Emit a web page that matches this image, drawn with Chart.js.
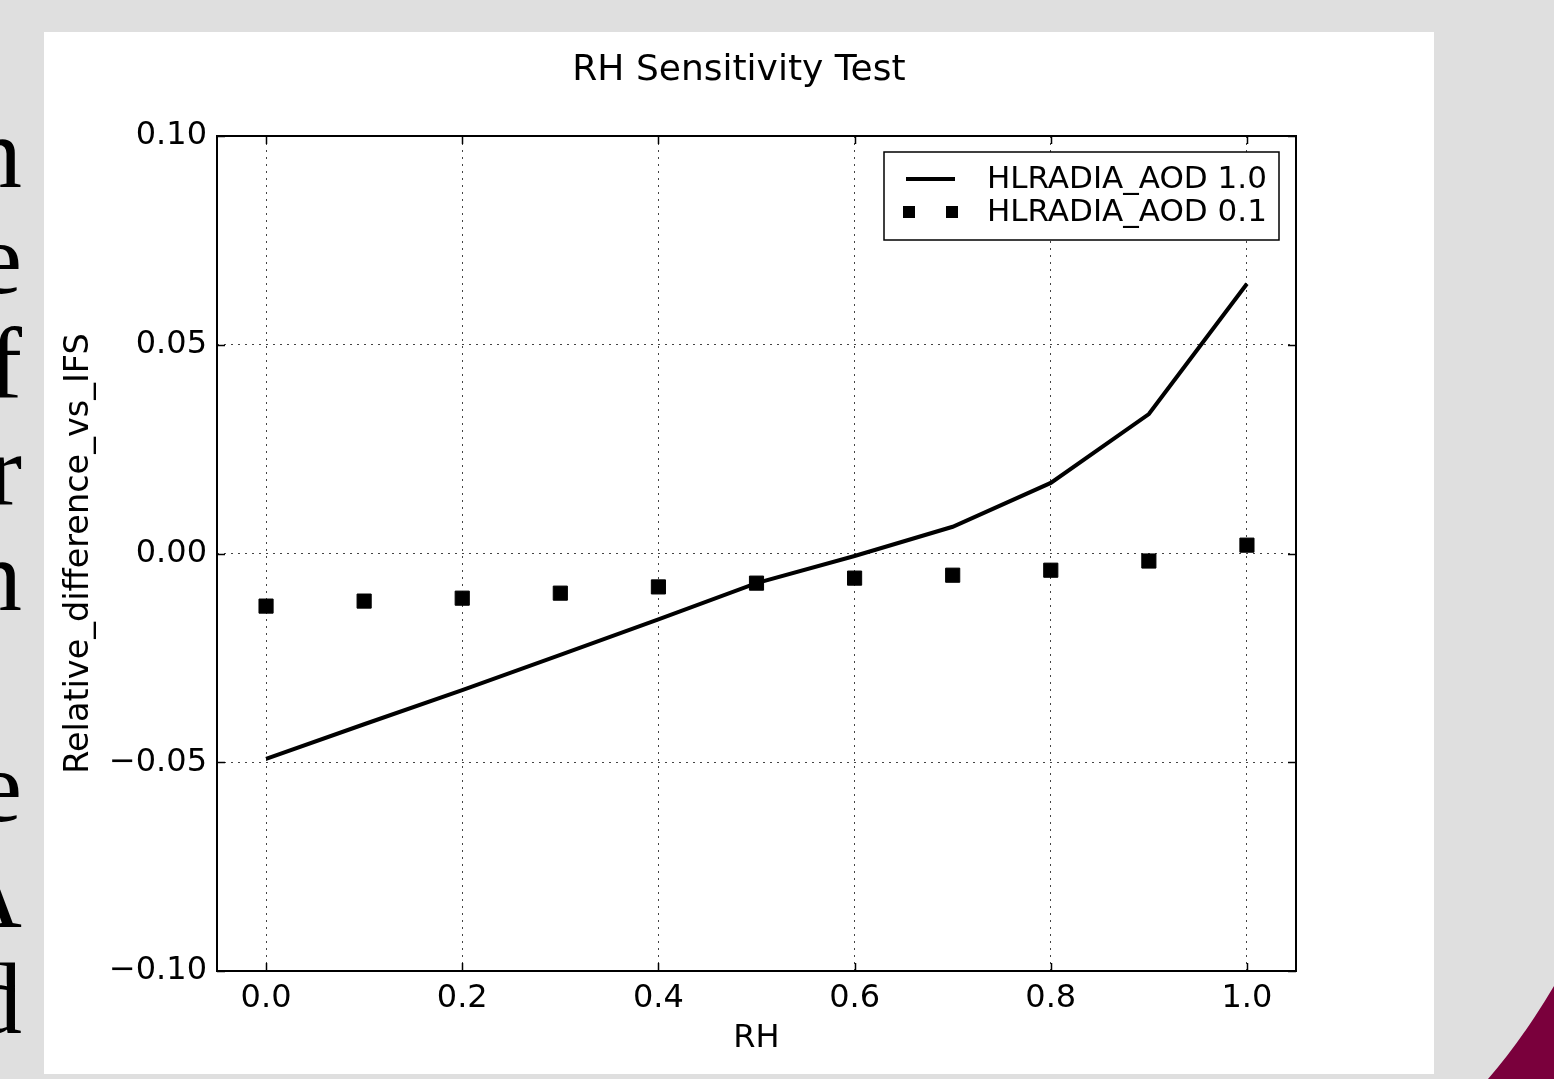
<!DOCTYPE html>
<html><head><meta charset="utf-8">
<script src="https://cdn.jsdelivr.net/npm/chart.js@4"></script>
<style>
html,body{margin:0;padding:0;background:#dfdfdf;width:1554px;height:1079px;overflow:hidden;position:relative}
#panel{position:absolute;left:44px;top:32px;width:1390px;height:1042px;background:#fff}
#side{position:absolute;right:1532px;top:100px;text-align:right;font-family:'Liberation Serif',serif;font-size:102px;line-height:105.7px;color:#000;white-space:nowrap}
#deco{position:absolute;left:0;top:0}
</style></head>
<body>
<div id="side">n<br>e<br>f<br>r<br>n<br>&nbsp;<br>e<br>A<br>d</div>
<svg id="deco" width="1554" height="1079"><path d="M1488 1079 Q1522 1040 1554 986 L1554 1079 Z" fill="#7a003c"/></svg>
<div id="panel"><canvas id="c" width="1390" height="1042"></canvas></div>
<script>
const titleText = 'RH Sensitivity Test';
const xLabel = 'RH';
const yLabel = 'Relative_difference_vs_IFS';
const rhValues = [0.0, 0.1, 0.2, 0.3, 0.4, 0.5, 0.6, 0.7, 0.8, 0.9, 1.0];
const seriesAod10 = [-0.0492, -0.0409, -0.0327, -0.0243, -0.0158, -0.0071, -0.0006, 0.0064, 0.0169, 0.0334, 0.0646];
const seriesAod01 = [-0.0126, -0.0114, -0.0107, -0.0095, -0.0080, -0.0071, -0.0059, -0.0052, -0.0040, -0.0018, 0.0020];
const seriesNames = ['HLRADIA_AOD 1.0', 'HLRADIA_AOD 0.1'];
const xTicks = [0.0, 0.2, 0.4, 0.6, 0.8, 1.0];
const yTicks = [-0.10, -0.05, 0.00, 0.05, 0.10];

const FONT = 'DejaVu Sans';
const fmt = (v, d) => { const s = Math.abs(v).toFixed(d); return (v < -1e-9 ? '\u2212' : '') + s; };

const framePlugin = {
  id: 'frame',
  afterDatasetsDraw(chart) {
    const {ctx, chartArea: a, scales} = chart;
    ctx.save();
    ctx.strokeStyle = '#000';
    ctx.lineWidth = 1.5;
    const tl = 8;
    ctx.beginPath();
    xTicks.forEach(v => {
      const p = Math.round(scales.x.getPixelForValue(v)) + 0.5;
      ctx.moveTo(p, a.bottom); ctx.lineTo(p, a.bottom - tl);
      ctx.moveTo(p, a.top); ctx.lineTo(p, a.top + tl);
    });
    yTicks.forEach(v => {
      const p = Math.round(scales.y.getPixelForValue(v)) + 0.5;
      ctx.moveTo(a.left, p); ctx.lineTo(a.left + tl, p);
      ctx.moveTo(a.right, p); ctx.lineTo(a.right - tl, p);
    });
    ctx.stroke();
    ctx.lineWidth = 2;
    ctx.strokeRect(a.left, a.top, a.right - a.left, a.bottom - a.top);
    ctx.restore();
  }
};

const legendPlugin = {
  id: 'boxLegend',
  afterDraw(chart) {
    const {ctx, chartArea: a} = chart;
    const w = 395, h = 88;
    const L = a.right - 17 - w, T = a.top + 16;
    ctx.save();
    ctx.fillStyle = '#fff';
    ctx.fillRect(L, T, w, h);
    ctx.strokeStyle = '#000';
    ctx.lineWidth = 1.5;
    ctx.strokeRect(L, T, w, h);
    const ds = chart.data.datasets;
    ctx.strokeStyle = ds[0].borderColor;
    ctx.lineWidth = ds[0].borderWidth;
    ctx.beginPath();
    ctx.moveTo(L + 22, T + 27); ctx.lineTo(L + 71, T + 27);
    ctx.stroke();
    ctx.fillStyle = ds[1].backgroundColor;
    [L + 25, L + 68].forEach(cx => ctx.fillRect(cx - 6, T + 60 - 6, 12, 12));
    ctx.fillStyle = '#000';
    ctx.font = '31px "' + FONT + '"';
    ctx.textBaseline = 'middle';
    ctx.textAlign = 'left';
    ctx.fillText(ds[0].label, L + 103, T + 28);
    ctx.fillText(ds[1].label, L + 103, T + 61);
    ctx.restore();
  }
};

const tickFont = {family: FONT, size: 32, weight: 'normal'};

new Chart(document.getElementById('c'), {
  type: 'scatter',
  data: {
    datasets: [
      {label: seriesNames[0], data: rhValues.map((x, i) => ({x, y: seriesAod10[i]})), showLine: true,
       borderColor: '#000', backgroundColor: '#000', borderWidth: 4, pointRadius: 0, tension: 0, fill: false},
      {label: seriesNames[1], data: rhValues.map((x, i) => ({x, y: seriesAod01[i]})), showLine: false,
       pointStyle: 'rect', pointRadius: 10, pointBorderWidth: 1, borderColor: '#000', backgroundColor: '#000'}
    ]
  },
  options: {
    responsive: false, animation: false, devicePixelRatio: 1,
    layout: {padding: 0},
    plugins: {
      legend: {display: false}, tooltip: {enabled: false},
      title: {display: true, text: titleText, color: '#000', font: {family: FONT, size: 36, weight: 'normal', lineHeight: 1.2}, padding: {top: 17, bottom: 43.8}}
    },
    scales: {
      x: {
        type: 'linear', min: -0.05, max: 1.05,
        afterBuildTicks: s => { s.ticks = xTicks.map(v => ({value: v})); },
        afterFit: s => { s.height = 103; },
        ticks: {callback: v => fmt(v, 1), color: '#000', font: tickFont, padding: 8, maxRotation: 0},
        grid: {color: '#444', lineWidth: 1, drawTicks: false},
        border: {display: false, dash: [2, 5]},
        title: {display: true, text: xLabel, color: '#000', font: {family: FONT, size: 32, weight: 'normal', lineHeight: 1.2}, padding: {top: 0, bottom: 16}}
      },
      y: {
        type: 'linear', min: -0.1, max: 0.1,
        afterBuildTicks: s => { s.ticks = yTicks.map(v => ({value: v})); },
        afterFit: s => { s.width = 173; },
        ticks: {callback: v => fmt(v, 2), color: '#000', font: tickFont, padding: 10},
        grid: {color: '#444', lineWidth: 1, drawTicks: false},
        border: {display: false, dash: [2, 5]},
        title: {display: true, text: yLabel, color: '#000', font: {family: FONT, size: 33.5, weight: 'normal', lineHeight: 1.2}, padding: {top: 15, bottom: 0}}
      },
      y2: {
        type: 'linear', position: 'right', display: true,
        grid: {display: false}, ticks: {display: false}, border: {display: false},
        afterFit: s => { s.width = 138; }
      }
    }
  },
  plugins: [framePlugin, legendPlugin]
});
</script>
</body></html>
